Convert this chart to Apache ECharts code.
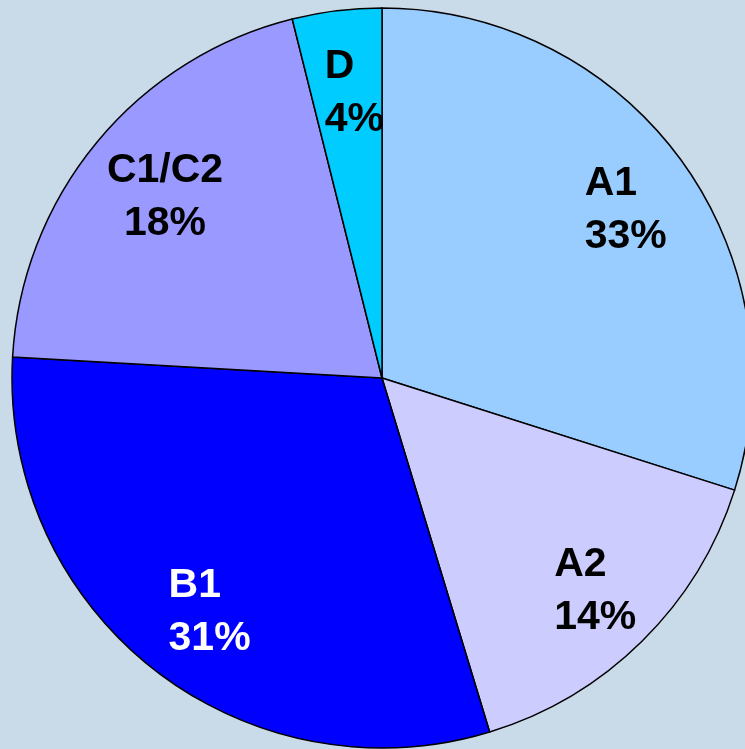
<!DOCTYPE html>
<html>
<head>
<meta charset="utf-8">
<script src="https://cdn.jsdelivr.net/npm/echarts@6/dist/echarts.min.js"></script>
<style>
  html, body { margin: 0; padding: 0; background: #c9dbe9; }
  #chart { width: 745px; height: 749px; }
</style>
</head>
<body>
<div id="chart"></div>
<script>
// slices, clockwise from 12 o'clock
const categories = ['A1', 'A2', 'B1', 'C1/C2', 'D']
const sliceValues = [29.9, 15.4, 30.6, 20.2, 3.9]   // size of each wedge as drawn
const percentLabels = ['33%', '14%', '31%', '18%', '4%']  // text printed on the wedge
const sliceColors = ['#99ccff', '#ccccff', '#0000ff', '#9999ff', '#00ccff']
const labelColors = ['#000', '#000', '#fff', '#000', '#000']

const chart = echarts.init(document.getElementById('chart'))

const pieData = categories.map((name, i) => ({
  name,
  value: sliceValues[i],
  itemStyle: { color: sliceColors[i] }
}))

// transparent ring used only to place the labels further out than the default
const labelData = categories.map((name, i) => ({
  name,
  value: sliceValues[i],
  label: { color: labelColors[i] }
}))

const textStyle = {
  fontFamily: '"Liberation Sans", Arial, sans-serif',
  fontWeight: 'bold',
  fontSize: 41,
  lineHeight: 53
}

chart.setOption({
  backgroundColor: '#c9dbe9',
  animation: false,
  series: [
    {
      type: 'pie',
      center: [382, 378],
      radius: [0, 370],
      startAngle: 90,
      clockwise: true,
      silent: true,
      itemStyle: { borderColor: '#000', borderWidth: 1.5 },
      label: { show: false },
      labelLine: { show: false },
      data: pieData
    },
    {
      type: 'pie',
      center: [382, 378],
      radius: [208, 370],
      startAngle: 90,
      clockwise: true,
      silent: true,
      itemStyle: { color: 'transparent', borderWidth: 0 },
      labelLine: { show: false },
      label: {
        show: true,
        position: 'inside',
        offset: [8, 5],
        ...textStyle,
        formatter: p => {
          const key = p.name === 'C1/C2' ? 'c' : 'l'
          return '{' + key + '|' + p.name + '}\n{' + key + '|' + percentLabels[p.dataIndex] + '}'
        },
        rich: {
          l: { ...textStyle, align: 'left' },
          c: { ...textStyle, align: 'center' }
        }
      },
      data: labelData
    }
  ]
})
</script>
</body>
</html>
